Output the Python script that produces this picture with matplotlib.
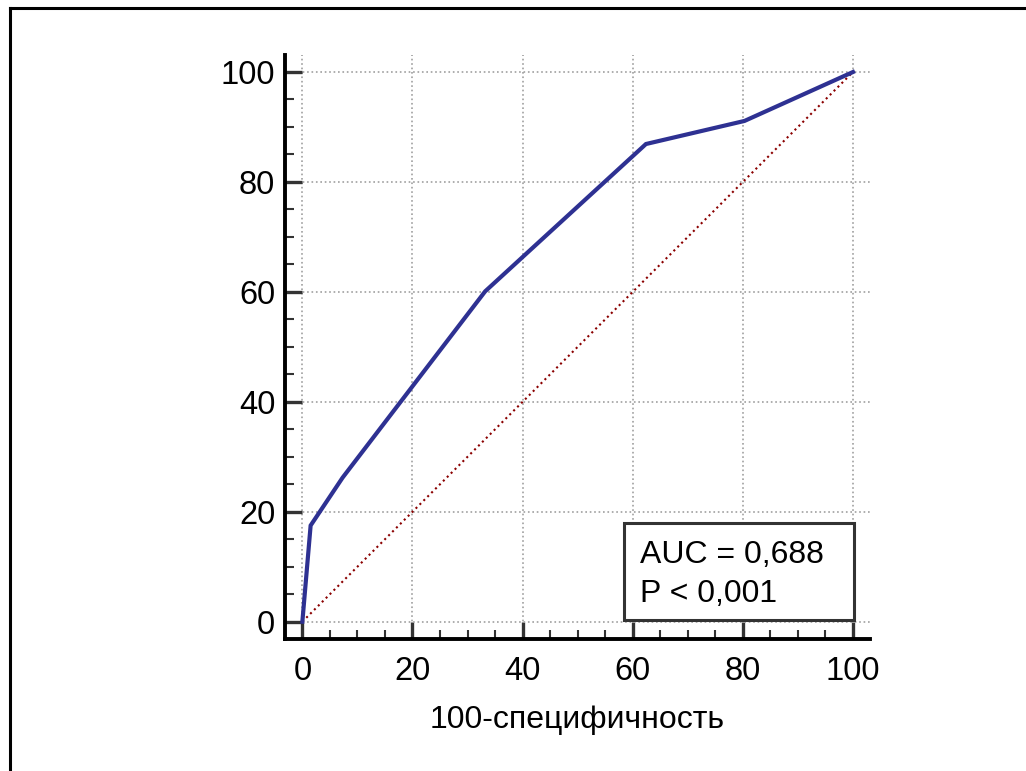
import matplotlib
matplotlib.use('Agg')
import matplotlib.pyplot as plt
from matplotlib.patches import Rectangle
from matplotlib.lines import Line2D
from matplotlib.ticker import MultipleLocator

plt.rcParams['font.family'] = ['Liberation Sans', 'DejaVu Sans']

# ROC curve
fpr = [0, 1.5, 7.3, 33.2, 62.4, 80.3, 100]
tpr = [0, 17.5, 26.2, 60.1, 86.9, 91.1, 100]
diag = [0, 100]
auc_text = 'AUC = 0,688'
p_text = 'P < 0,001'
xlabel = '100-специфичность'

fig = plt.figure(figsize=(10.26, 7.71), dpi=100)
ax = fig.add_axes([0.2778, 0.1712, 0.5702, 0.7575])

ax.plot(diag, diag, color='#8b0000', linestyle=':', linewidth=1.5, zorder=2)
ax.plot(fpr, tpr, color='#2e3192', linewidth=3, solid_joinstyle='miter', zorder=3)

ax.set_xlim(-3.15, 103.1)
ax.set_ylim(-3.15, 103.1)
for a in (ax.xaxis, ax.yaxis):
    a.set_major_locator(MultipleLocator(20))
    a.set_minor_locator(MultipleLocator(5))
ax.set_xticks(range(0, 101, 20))
ax.set_yticks(range(0, 101, 20))

ax.grid(True, which='major', color='#a0a0a0', linestyle=':', linewidth=1.2, zorder=0)
ax.set_axisbelow(True)

for s in ['top', 'right']:
    ax.spines[s].set_visible(False)
for s in ['left', 'bottom']:
    ax.spines[s].set_linewidth(2.8)
    ax.spines[s].set_color('black')

ax.tick_params(which='major', direction='in', length=12.5, width=2.4,
               color='#333333', labelsize=23.5, pad=7)
ax.tick_params(axis='x', which='major', pad=12)
ax.tick_params(which='minor', direction='in', length=6.5, width=1.5, color='#333333')

ax.set_xlabel(xlabel, fontsize=23, labelpad=13)

# AUC box
box = Rectangle((58.4, 0.3), 41.7, 17.7, facecolor='white', edgecolor='#333333',
                linewidth=2.2, zorder=4)
ax.add_patch(box)
ax.text(61.3, 10.6, auc_text, fontsize=23, va='baseline', ha='left', zorder=5)
ax.text(61.3, 3.6, p_text, fontsize=23, va='baseline', ha='left', zorder=5)

# frame lines (top and left) around the figure
fig.add_artist(Line2D([10 / 1026, 1.0], [1 - 7.5 / 771, 1 - 7.5 / 771],
                      color='black', linewidth=2.2, transform=fig.transFigure))
fig.add_artist(Line2D([10 / 1026, 10 / 1026], [0.0, 1 - 7.5 / 771],
                      color='black', linewidth=2.2, transform=fig.transFigure))

fig.savefig('out.png', dpi=100)
